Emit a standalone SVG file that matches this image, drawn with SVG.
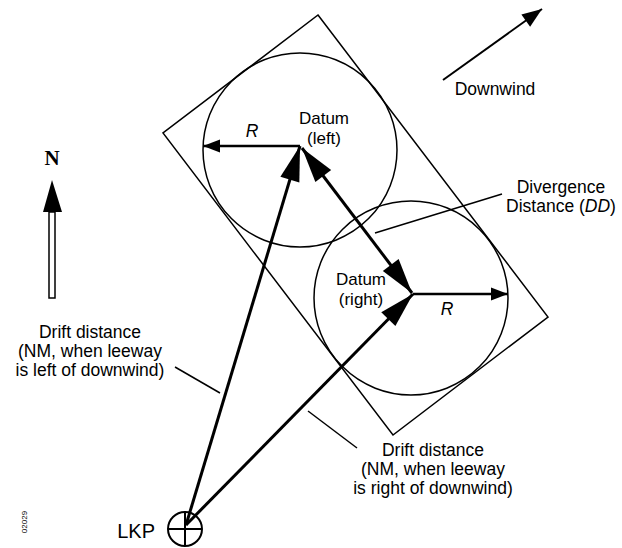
<svg xmlns="http://www.w3.org/2000/svg" width="622" height="548" viewBox="0 0 622 548">
<style>
.t{font-family:"Liberation Sans",Arial,sans-serif;font-size:17.5px;fill:#000;text-anchor:middle}
.d{font-size:17px}
.thin{fill:none;stroke:#000;stroke-width:1.5}
.thick{fill:none;stroke:#000;stroke-width:3}
.med{fill:none;stroke:#000;stroke-width:2.5}
</style>
<defs>
<marker id="big" markerUnits="userSpaceOnUse" markerWidth="40" markerHeight="22" viewBox="-34 -10 36 20" refX="0" refY="0" orient="auto"><path d="M0,0 L-32,-9 L-32,9 z" fill="#000"/></marker>
<marker id="bigs" markerUnits="userSpaceOnUse" markerWidth="40" markerHeight="22" viewBox="-2 -10 36 20" refX="0" refY="0" orient="auto"><path d="M0,0 L32,-9 L32,9 z" fill="#000"/></marker>
<marker id="small" markerUnits="userSpaceOnUse" markerWidth="22" markerHeight="16" viewBox="-20 -7 22 14" refX="0" refY="0" orient="auto"><path d="M0,0 L-17,-6.5 L-17,6.5 z" fill="#000"/></marker>
<marker id="wind" markerUnits="userSpaceOnUse" markerWidth="24" markerHeight="18" viewBox="-22 -8 24 16" refX="0" refY="0" orient="auto"><path d="M0,0 L-20,-7.5 L-20,7.5 z" fill="#000"/></marker>
</defs>
<g id="search-area"><polygon class="thin" points="318,15 548,317 393,435 163,133"/></g>
<g id="circle-left"><circle class="thin" cx="300" cy="150" r="97"/></g>
<g id="circle-right"><circle class="thin" cx="411" cy="298" r="97"/></g>
<g id="connectors">
<line class="thick" x1="186" y1="525" x2="300" y2="146" marker-end="url(#big)"/>
<line class="thick" x1="186" y1="525" x2="413" y2="294" marker-end="url(#big)"/>
<line class="thick" x1="302" y1="148" x2="412" y2="293" marker-start="url(#bigs)" marker-end="url(#big)"/>
<line class="med" x1="300" y1="146" x2="203" y2="146" marker-end="url(#small)"/>
<line class="med" x1="413" y1="294" x2="508" y2="294" marker-end="url(#small)"/>
<line class="med" x1="443" y1="80" x2="542" y2="9" marker-end="url(#wind)" style="stroke-width:2"/>
<line class="thin" x1="175" y1="367" x2="220" y2="393"/>
<line class="thin" x1="308" y1="411" x2="357" y2="448"/>
<line class="thin" x1="502" y1="194" x2="375" y2="233"/>
</g>
<g id="north">
<text x="52" y="165" style="font-family:'Liberation Serif','Times New Roman',serif;font-weight:bold;font-size:21px;text-anchor:middle">N</text>
<polygon points="52,180 43,212 62,212" fill="#000"/>
<rect x="49" y="212" width="6" height="86" fill="#fff" stroke="#000" stroke-width="1.5"/>
</g>
<g id="downwind"><text class="t" x="495" y="95">Downwind</text></g>
<g id="datum-left">
<text class="t d" x="324" y="124">Datum</text>
<text class="t d" x="324" y="144">(left)</text>
<text class="t" x="252" y="137" font-style="italic">R</text>
</g>
<g id="datum-right">
<text class="t d" x="361" y="285">Datum</text>
<text class="t d" x="361" y="305">(right)</text>
<text class="t" x="447" y="315" font-style="italic">R</text>
</g>
<g id="divergence">
<text class="t" x="561" y="193">Divergence</text>
<text class="t" x="561" y="212">Distance (<tspan font-style="italic">DD</tspan>)</text>
</g>
<g id="drift-left">
<text class="t" x="90" y="338">Drift distance</text>
<text class="t" x="90" y="357">(NM, when leeway</text>
<text class="t" x="90" y="376">is left of downwind)</text>
</g>
<g id="drift-right">
<text class="t" x="433" y="456">Drift distance</text>
<text class="t" x="433" y="475">(NM, when leeway</text>
<text class="t" x="433" y="494">is right of downwind)</text>
</g>
<g id="lkp">
<circle class="thin" cx="185" cy="529" r="17" style="stroke-width:2"/>
<line class="thin" x1="168" y1="529" x2="202" y2="529" style="stroke-width:2"/>
<line class="thin" x1="185" y1="512" x2="185" y2="546" style="stroke-width:2"/>
<text class="t" x="155" y="538" style="text-anchor:end;font-size:20px">LKP</text>
</g>
<g id="code"><text x="27" y="522" transform="rotate(-90 27 522)" style="font-family:'Liberation Sans',Arial,sans-serif;font-size:8px;text-anchor:middle">02029</text></g>
</svg>
